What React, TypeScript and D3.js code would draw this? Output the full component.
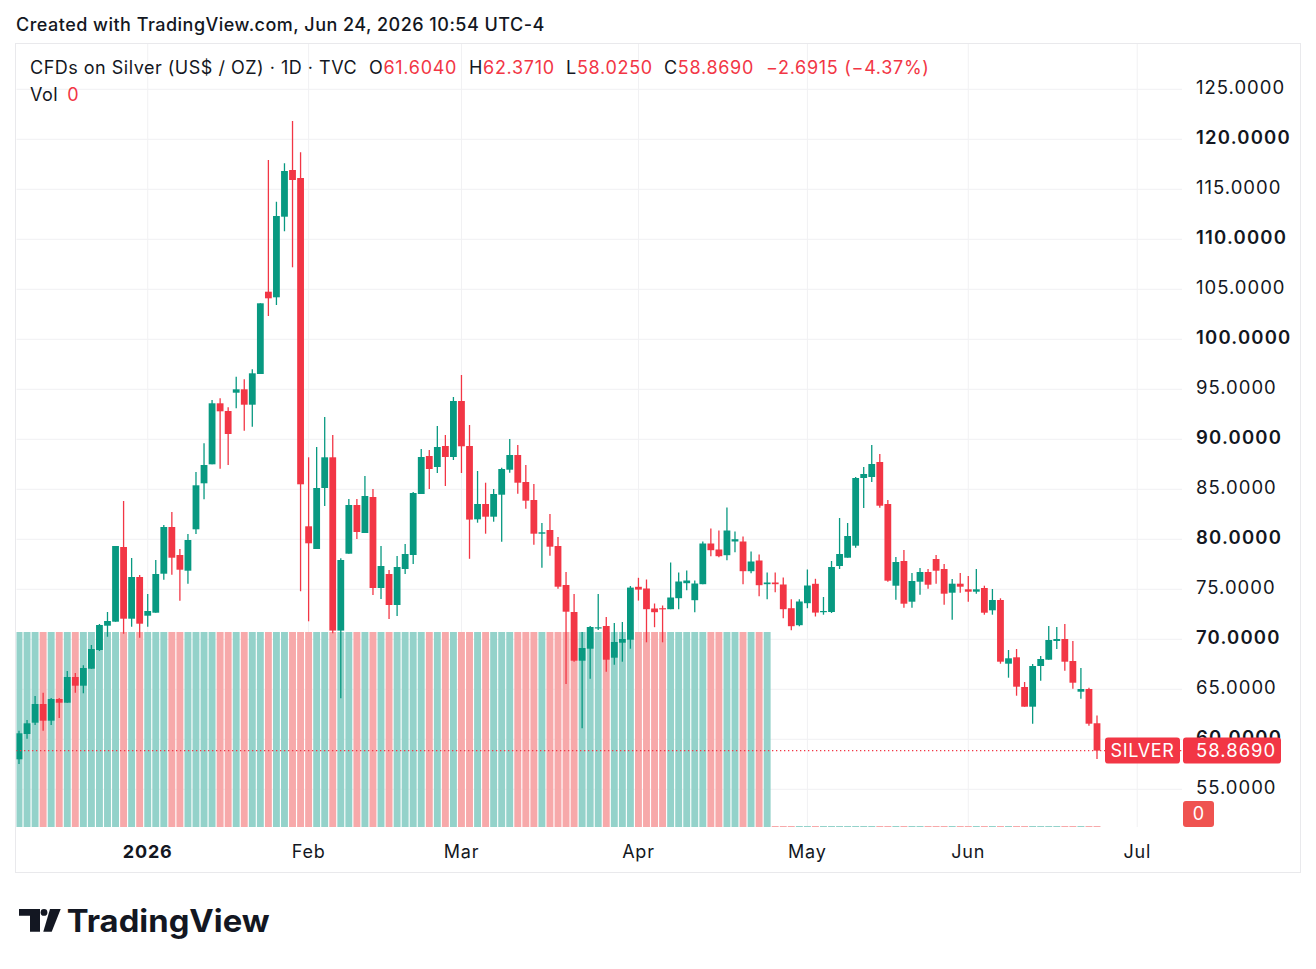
import React, { useEffect, useRef } from "react";
import * as d3 from "d3";

// trading days per month, Dec 2025 - Jun 2026 (US holidays skipped)
const dec2025 = [9, 10, 11, 12, 15, 16, 17, 18, 19, 22, 23, 24, 26, 29, 30, 31];
const jan2026 = [2, 5, 6, 7, 8, 9, 12, 13, 14, 15, 16, 20, 21, 22, 23, 26, 27, 28, 29, 30];
const feb2026 = [2, 3, 4, 5, 6, 9, 10, 11, 12, 13, 17, 18, 19, 20, 23, 24, 25, 26, 27];
const mar2026 = [2, 3, 4, 5, 6, 9, 10, 11, 12, 13, 16, 17, 18, 19, 20, 23, 24, 25, 26, 27, 30, 31];
const apr2026 = [1, 2, 6, 7, 8, 9, 10, 13, 14, 15, 16, 17, 20, 21, 22, 23, 24, 27, 28, 29, 30];
const may2026 = [1, 4, 5, 6, 7, 8, 11, 12, 13, 14, 15, 18, 19, 20, 21, 22, 26, 27, 28, 29];
const jun2026 = [1, 2, 3, 4, 5, 8, 9, 10, 11, 12, 15, 16, 17, 18, 22, 23, 24];
const jun2026Rest = [25, 26, 29, 30]; // empty future bars before the Jul label

const opens = [
  58.0, 60.53, 61.66, 63.53, 61.86, 64.03, 63.66, 66.23, 65.36, 67.06, 68.93, 71.36, 71.76, 79.23, 72.06, 76.23,
  72.36, 72.66, 76.56, 81.23, 78.43, 76.86, 81.0, 85.6, 87.5, 93.6, 92.83, 94.66, 95.0, 93.46, 96.53, 104.76,
  104.2, 112.26, 116.93, 116.13, 81.3, 79.03, 85.13, 88.2, 70.87, 78.56, 83.43, 80.63, 84.23, 75.13, 76.53, 73.43,
  77.03, 78.43, 84.53, 88.33, 87.23, 89.33, 88.23, 93.83, 89.33, 82.0, 83.53, 82.26, 84.46, 86.96, 88.43, 85.73,
  83.93, 80.56, 80.93, 79.33, 75.43, 72.73, 67.86, 69.06, 71.13, 71.33, 68.16, 69.66, 69.96, 75.25, 75.08, 73.08,
  73.11, 73.01, 74.11, 75.61, 73.91, 75.51, 79.58, 78.98, 78.41, 79.78, 79.78, 76.81, 77.88, 75.51, 75.68, 75.48,
  73.11, 71.41, 73.61, 75.55, 72.73, 72.73, 77.33, 78.16, 79.36, 86.13, 86.23, 87.73, 83.53, 75.36, 77.83, 73.76,
  75.76, 76.73, 78.03, 77.03, 74.66, 75.56, 75.0, 74.76, 75.13, 72.9, 73.93, 67.56, 68.2, 65.23, 63.26, 67.33,
  67.96, 69.83, 70.03, 67.83, 64.76, 65.03, 61.604,
];
const highs = [
  60.86, 61.93, 64.33, 64.66, 64.13, 64.13, 66.83, 66.63, 67.4, 69.43, 71.53, 72.73, 79.33, 83.83, 78.13, 76.43,
  74.53, 77.93, 81.43, 82.73, 79.03, 80.53, 86.73, 89.6, 93.93, 94.1, 93.2, 96.26, 96.0, 97.0, 103.6, 117.93,
  113.76, 117.6, 121.83, 118.7, 88.2, 89.23, 92.23, 90.43, 78.1, 84.03, 84.03, 86.33, 85.03, 79.33, 76.93, 78.33,
  79.53, 84.73, 89.03, 88.93, 91.33, 90.43, 94.23, 96.43, 91.43, 86.83, 85.66, 85.03, 87.16, 90.03, 89.43, 87.43,
  85.53, 81.63, 82.53, 80.23, 76.73, 74.53, 70.73, 71.33, 74.53, 72.23, 71.63, 71.73, 75.33, 76.15, 75.98, 73.58,
  73.38, 77.68, 76.68, 76.88, 75.88, 79.78, 81.08, 80.88, 83.18, 80.78, 80.28, 78.78, 78.48, 76.68, 76.68, 76.18,
  74.01, 74.01, 76.98, 76.05, 74.23, 77.83, 82.13, 81.63, 86.23, 87.23, 89.43, 88.53, 83.93, 78.23, 78.93, 76.63,
  77.13, 77.03, 78.43, 77.53, 76.03, 76.63, 76.33, 77.03, 75.36, 75.03, 74.1, 68.93, 69.03, 65.73, 67.53, 68.33,
  71.33, 71.23, 71.53, 69.83, 67.13, 65.16, 62.371,
];
const lows = [
  57.53, 60.06, 61.43, 60.86, 61.43, 62.13, 63.66, 64.66, 64.6, 67.06, 68.83, 70.26, 71.76, 70.56, 71.26, 70.16,
  71.26, 72.66, 75.96, 76.46, 73.86, 75.56, 80.53, 84.0, 87.5, 87.06, 87.43, 93.1, 90.86, 91.26, 96.53, 102.33,
  103.43, 110.8, 107.2, 74.8, 71.8, 79.03, 83.33, 70.6, 64.1, 78.56, 80.03, 80.63, 74.43, 74.03, 72.03, 72.33,
  76.53, 77.53, 84.53, 85.03, 86.63, 85.33, 87.93, 86.63, 78.05, 81.66, 80.56, 81.76, 79.76, 86.66, 84.56, 83.06,
  79.46, 77.16, 78.36, 75.06, 65.53, 67.76, 61.1, 66.06, 70.93, 66.76, 67.46, 67.76, 69.06, 73.87, 69.7, 71.21,
  69.7, 73.01, 73.01, 74.91, 72.71, 75.51, 78.31, 78.21, 77.91, 78.71, 75.51, 76.61, 74.31, 74.01, 74.71, 72.11,
  70.91, 71.31, 73.11, 72.28, 72.46, 72.63, 77.03, 78.16, 79.16, 83.13, 85.73, 83.16, 75.76, 73.96, 73.16, 73.16,
  74.46, 75.06, 75.56, 73.46, 71.96, 74.66, 73.76, 74.56, 72.46, 72.46, 67.56, 66.16, 64.36, 63.26, 61.56, 65.86,
  67.96, 69.03, 66.86, 65.06, 64.06, 61.36, 58.025,
];
const closes = [
  60.6, 61.6, 63.53, 61.86, 64.03, 63.66, 66.23, 65.36, 67.13, 69.03, 71.43, 71.83, 79.33, 72.06, 76.23, 71.56,
  72.83, 76.53, 81.23, 78.16, 76.96, 79.93, 85.4, 87.43, 93.6, 92.8, 90.53, 95.0, 93.46, 96.6, 103.6, 104.1,
  112.33, 116.83, 115.93, 85.5, 79.6, 85.13, 88.2, 70.87, 77.93, 83.43, 80.73, 84.33, 75.13, 77.33, 73.43, 77.23,
  78.53, 84.63, 88.23, 87.03, 89.23, 88.23, 93.83, 89.3, 81.97, 83.53, 82.26, 84.53, 87.03, 88.43, 85.66, 83.86,
  80.56, 80.7, 79.26, 75.26, 72.76, 67.86, 69.13, 71.23, 71.2, 67.96, 69.73, 70.03, 75.17, 74.97, 73.01, 72.71,
  73.01, 74.18, 75.78, 75.88, 75.58, 79.58, 78.91, 78.31, 80.88, 80.01, 76.81, 77.78, 75.41, 75.68, 75.51, 73.01,
  71.31, 73.78, 75.38, 72.67, 72.83, 77.23, 78.53, 80.33, 86.13, 86.53, 87.53, 83.36, 75.86, 77.73, 73.56, 75.83,
  76.73, 75.46, 76.86, 74.56, 75.56, 75.26, 74.76, 75.0, 72.66, 73.93, 67.76, 68.1, 65.26, 63.26, 67.33, 68.03,
  69.93, 70.03, 67.76, 65.66, 65.03, 61.5605, 58.869,
];
const volumes = [
  1, 1, 1, 1, 1, 1, 1, 1, 1, 1, 1, 1, 1, 1, 1, 1, 1, 1, 1, 1, 1, 1, 1, 1, 1, 1, 1, 1, 1, 1, 1, 1,
  1, 1, 1, 1, 1, 1, 1, 1, 1, 1, 1, 1, 1, 1, 1, 1, 1, 1, 1, 1, 1, 1, 1, 1, 1, 1, 1, 1, 1, 1, 1, 1,
  1, 1, 1, 1, 1, 1, 1, 1, 1, 1, 1, 1, 1, 1, 1, 1, 1, 1, 1, 1, 1, 1, 1, 1, 1, 1, 1, 1, 1, 1, 0, 0,
  0, 0, 0, 0, 0, 0, 0, 0, 0, 0, 0, 0, 0, 0, 0, 0, 0, 0, 0, 0, 0, 0, 0, 0, 0, 0, 0, 0, 0, 0, 0, 0,
  0, 0, 0, 0, 0, 0, 0,
];

const priceTicks = [55, 60, 65, 70, 75, 80, 85, 90, 95, 100, 105, 110, 115, 120, 125];
const monthLabels = ["2026", "Feb", "Mar", "Apr", "May", "Jun", "Jul"];

const UP = "#089981";
const DOWN = "#F23645";
const UP_VOL = "#94d2ca";
const DOWN_VOL = "#f7a9aa";
const GRID = "#f1f1f3";
const TEXT = "#131722";
const FONT = "Inter, 'Noto Sans', sans-serif";

function App() {
  const ref = useRef<SVGSVGElement>(null);

  useEffect(() => {
    const svg = d3.select(ref.current);
    svg.selectAll("*").remove();

    const months = [jan2026, feb2026, mar2026, apr2026, may2026, jun2026];
    // bar index of first trading day in each month
    const monthStarts: number[] = [];
    let acc = dec2025.length;
    months.forEach(m => {
      monthStarts.push(acc);
      acc += m.length;
    });
    monthStarts.push(acc + jun2026Rest.length);

    const bars = opens.map((o, i) => ({
      i,
      o,
      h: highs[i],
      l: lows[i],
      c: closes[i],
      v: volumes[i],
    }));

    const left = 16;
    const right = 1182;
    const top = 44;
    const bottom = 827;

    const x = d3.scaleLinear().domain([0, bars.length - 1]).range([19, 1097]);
    const y = d3.scaleLinear().domain([55, 125]).range([789.3, 89.3]);
    const vy = d3.scaleLinear().domain([0, d3.max(volumes) as number]).range([bottom, 632]);

    svg.append("rect").attr("width", 1316).attr("height", 969).attr("fill", "#fff");

    svg
      .append("text")
      .attr("x", 16)
      .attr("y", 25)
      .attr("dy", "0.35em")
      .attr("font-size", 18)
      .attr("font-weight", 500)
      .attr("letter-spacing", 0.48)
      .attr("fill", TEXT)
      .text("Created with TradingView.com, Jun 24, 2026 10:54 UTC-4");

    // frame
    svg
      .append("rect")
      .attr("x", 15.5)
      .attr("y", 43.5)
      .attr("width", 1285)
      .attr("height", 829)
      .attr("fill", "none")
      .attr("stroke", "#e9e9ec");

    const defs = svg.append("defs");
    defs
      .append("clipPath")
      .attr("id", "pane")
      .append("rect")
      .attr("x", left + 0.5)
      .attr("y", top)
      .attr("width", right - left)
      .attr("height", bottom - top);

    const pane = svg.append("g").attr("clip-path", "url(#pane)");

    pane
      .selectAll("line.hgrid")
      .data(priceTicks)
      .join("line")
      .attr("x1", left)
      .attr("x2", right)
      .attr("y1", d => y(d))
      .attr("y2", d => y(d))
      .attr("stroke", GRID);

    pane
      .selectAll("line.vgrid")
      .data(monthStarts)
      .join("line")
      .attr("x1", d => x(d))
      .attr("x2", d => x(d))
      .attr("y1", top)
      .attr("y2", bottom)
      .attr("stroke", GRID);

    // volume
    pane
      .selectAll("rect.vol")
      .data(bars)
      .join("rect")
      .attr("x", d => x(d.i) - 3.45)
      .attr("width", 6.9)
      .attr("y", d => Math.min(vy(d.v), bottom - 1))
      .attr("height", d => Math.max(1, bottom - vy(d.v)))
      .attr("fill", d => (d.c >= d.o ? UP_VOL : DOWN_VOL));

    // candles
    const candle = pane.selectAll("g.candle").data(bars).join("g");
    candle
      .append("line")
      .attr("x1", d => x(d.i))
      .attr("x2", d => x(d.i))
      .attr("y1", d => y(d.h))
      .attr("y2", d => y(d.l))
      .attr("stroke", d => (d.c >= d.o ? UP : DOWN))
      .attr("stroke-width", 1.3);
    candle
      .append("rect")
      .attr("x", d => x(d.i) - 3.4)
      .attr("width", 6.8)
      .attr("y", d => y(Math.max(d.o, d.c)))
      .attr("height", d => Math.max(1.2, Math.abs(y(d.o) - y(d.c))))
      .attr("fill", d => (d.c >= d.o ? UP : DOWN));

    const last = bars[bars.length - 1];
    pane
      .append("line")
      .attr("x1", left)
      .attr("x2", right)
      .attr("y1", y(last.c))
      .attr("y2", y(last.c))
      .attr("stroke", DOWN)
      .attr("stroke-width", 1.2)
      .attr("stroke-dasharray", "1.3 2.7");

    // price scale
    svg
      .append("g")
      .selectAll("text")
      .data(priceTicks)
      .join("text")
      .attr("x", 1196)
      .attr("y", d => y(d) - 2)
      .attr("dy", "0.35em")
      .attr("font-size", 18.5)
      .attr("font-weight", d => (d % 10 === 0 ? 600 : 400))
      .attr("letter-spacing", d => (d % 10 === 0 ? 1.2 : 1))
      .attr("fill", TEXT)
      .text(d => d.toFixed(4));

    // time scale
    svg
      .append("g")
      .selectAll("text")
      .data(monthStarts)
      .join("text")
      .attr("x", d => x(d))
      .attr("y", 852)
      .attr("dy", "0.35em")
      .attr("text-anchor", "middle")
      .attr("font-size", 18)
      .attr("letter-spacing", 0.8)
      .attr("font-weight", (d, i) => (i === 0 ? 700 : 400))
      .attr("fill", TEXT)
      .text((d, i) => monthLabels[i]);

    // last price labels
    const ly = y(last.c);
    svg
      .append("rect")
      .attr("x", 1105)
      .attr("y", ly - 13)
      .attr("width", 75)
      .attr("height", 26)
      .attr("rx", 3)
      .attr("fill", DOWN);
    svg
      .append("text")
      .attr("x", 1142.5)
      .attr("y", ly)
      .attr("dy", "0.35em")
      .attr("text-anchor", "middle")
      .attr("font-size", 18)
      .attr("letter-spacing", 0.6)
      .attr("fill", "#fff")
      .text("SILVER");
    svg
      .append("rect")
      .attr("x", 1183)
      .attr("y", ly - 13)
      .attr("width", 98)
      .attr("height", 26)
      .attr("rx", 3)
      .attr("fill", DOWN);
    svg
      .append("text")
      .attr("x", 1196)
      .attr("y", ly)
      .attr("dy", "0.35em")
      .attr("font-size", 18.5)
      .attr("letter-spacing", 1)
      .attr("fill", "#fff")
      .text(last.c.toFixed(4));
    svg
      .append("rect")
      .attr("x", 1183)
      .attr("y", 801)
      .attr("width", 31)
      .attr("height", 26)
      .attr("rx", 3)
      .attr("fill", "#ef5350");
    svg
      .append("text")
      .attr("x", 1198.5)
      .attr("y", 814)
      .attr("dy", "0.35em")
      .attr("text-anchor", "middle")
      .attr("font-size", 18)
      .attr("fill", "#fff")
      .text(String(last.v));

    // legend
    const prev = bars[bars.length - 2];
    const chg = last.c - prev.c;
    const pct = (chg / prev.c) * 100;
    const fmtSigned = (v: number, p: number) => (v < 0 ? "\u2212" : "+") + Math.abs(v).toFixed(p);

    svg
      .append("text")
      .attr("x", 30)
      .attr("y", 68)
      .attr("dy", "0.35em")
      .attr("font-size", 18)
      .attr("letter-spacing", 0.5)
      .attr("fill", TEXT)
      .text("CFDs on Silver (US$ / OZ) \u00b7 1D \u00b7 TVC");

    const legend = [
      { k: "O", v: last.o.toFixed(4), x: 369 },
      { k: "H", v: last.h.toFixed(4), x: 469 },
      { k: "L", v: last.l.toFixed(4), x: 566 },
      { k: "C", v: last.c.toFixed(4), x: 664 },
      { k: "", v: `${fmtSigned(chg, 4)} (${fmtSigned(pct, 2)}%)`, x: 766 },
    ];
    const lt = svg
      .append("g")
      .selectAll("text")
      .data(legend)
      .join("text")
      .attr("x", d => d.x)
      .attr("y", 68)
      .attr("dy", "0.35em")
      .attr("font-size", 18)
      .attr("letter-spacing", 0.7);
    lt.append("tspan").attr("fill", TEXT).text(d => d.k);
    lt.append("tspan").attr("fill", DOWN).text(d => d.v);

    const vol = svg
      .append("text")
      .attr("x", 30)
      .attr("y", 95)
      .attr("dy", "0.35em")
      .attr("font-size", 18)
      .attr("letter-spacing", 0.5);
    vol.append("tspan").attr("fill", TEXT).text("Vol");
    vol.append("tspan").attr("fill", DOWN).attr("dx", 9).text(String(last.v));

    // TradingView logo
    const logo = svg.append("g").attr("fill", TEXT);
    logo.append("path").attr("d", "M19,909 H40 V931.7 H30 V915.7 H19 Z");
    logo.append("circle").attr("cx", 44).attr("cy", 912.4).attr("r", 3.4);
    logo.append("path").attr("d", "M50,909 H60.7 L51.7,931.7 H43.3 Z");
    logo
      .append("text")
      .attr("x", 66.7)
      .attr("y", 931.7)
      .attr("font-size", 31)
      .attr("font-weight", 700)
      .attr("textLength", 203)
      .attr("lengthAdjust", "spacingAndGlyphs")
      .attr("fill", TEXT)
      .text("TradingView");
  }, []);

  return (
    <svg
      ref={ref}
      width={1316}
      height={969}
      style={{ position: "absolute", left: 0, top: 0, fontFamily: FONT }}
    />
  );
}

export default App;
